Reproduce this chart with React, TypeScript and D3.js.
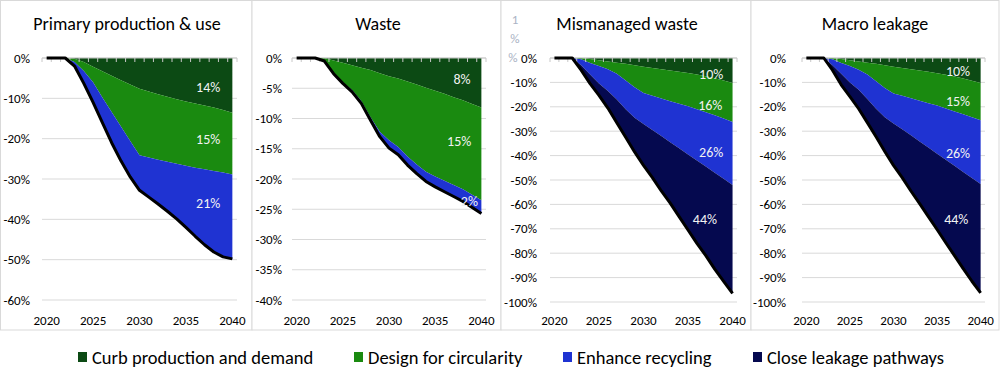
import * as d3 from "d3";

const years = [
  2020, 2021, 2022, 2023, 2024, 2025, 2026, 2027, 2028, 2029, 2030,
  2031, 2032, 2033, 2034, 2035, 2036, 2037, 2038, 2039, 2040,
];
const yearTicks = [2020, 2025, 2030, 2035, 2040];

const leverNames = [
  "Curb production and demand",
  "Design for circularity",
  "Enhance recycling",
  "Close leakage pathways",
];
const leverColors = ["#0c4a14", "#1a8a10", "#1f33d2", "#05094f"];

// reduction vs baseline attributed to each lever (percentage points)
const primaryCurb = [0, 0, 0, 0.2, 1, 2.2, 3.3, 4.4, 5.5, 6.6, 7.6, 8.3, 9, 9.6, 10.2, 10.8, 11.3, 11.8, 12.3, 12.9, 13.6];
const primaryDesign = [0, 0, 0, 0.8, 2.2, 3.8, 6.5, 9, 11.5, 14, 16.5, 16.4, 16.2, 16.1, 16, 15.9, 15.9, 15.8, 15.7, 15.5, 15.3];
const primaryRecycle = [0, 0, 0, 1, 3.1, 5, 6.2, 7.6, 8.5, 8.9, 8.7, 9.8, 11, 12.3, 13.7, 15.3, 17, 18.7, 20.1, 20.9, 20.9];
const primaryLeak = [0, 0, 0, 0, 0, 0, 0, 0, 0, 0, 0, 0, 0, 0, 0, 0, 0, 0, 0, 0, 0];

const wasteCurb = [0, 0, 0, 0, 0.4, 0.8, 1.2, 1.6, 2, 2.5, 3, 3.4, 3.9, 4.4, 4.9, 5.4, 5.9, 6.5, 7, 7.6, 8.2];
const wasteDesign = [0, 0, 0, 0.5, 2.1, 3.2, 4.1, 5.5, 7.8, 9.7, 10.6, 11.3, 12.4, 13.2, 13.9, 14.2, 14.4, 14.5, 14.7, 15, 15.3];
const wasteRecycle = [0, 0, 0, 0, 0.1, 0.2, 0.3, 0.4, 0.5, 0.8, 1.3, 1.3, 1.4, 1.5, 1.6, 1.7, 1.8, 1.9, 2, 2.1, 2.2];
const wasteLeak = [0, 0, 0, 0, 0, 0, 0, 0, 0, 0, 0, 0, 0, 0, 0, 0, 0, 0, 0, 0, 0];

const mismanagedCurb = [0, 0, 0, 0, 0.4, 0.9, 1.4, 1.9, 2.4, 3, 3.6, 4.1, 4.6, 5.1, 5.6, 6.1, 6.8, 7.5, 8.3, 9.2, 10.2];
const mismanagedDesign = [0, 0, 0, 0.5, 1.6, 2.4, 3.2, 4.6, 6.8, 9, 10.7, 11.4, 12, 12.6, 13.2, 13.7, 14.2, 14.7, 15.2, 15.6, 16];
const mismanagedRecycle = [0, 0, 0, 2.5, 4.8, 7.2, 8.9, 10.5, 11.8, 12.5, 12.7, 14, 15.4, 16.8, 18.2, 19.7, 21, 22.3, 23.5, 24.7, 25.8];
const mismanagedLeak = [0, 0, 0, 2, 3.7, 4.8, 7, 9.5, 11.5, 14, 17, 19.5, 22.5, 25, 28, 31, 34, 36.5, 39.5, 42, 44.5];

const macroCurb = [0, 0, 0, 0, 0.4, 0.9, 1.4, 1.9, 2.4, 3, 3.6, 4.1, 4.6, 5.1, 5.6, 6.2, 6.9, 7.6, 8.4, 9.3, 10.2];
const macroDesign = [0, 0, 0, 0.5, 1.6, 2.4, 3.4, 4.9, 7.1, 9.3, 10.9, 11.4, 11.9, 12.4, 12.9, 13.3, 13.8, 14.3, 14.7, 15, 15.3];
const macroRecycle = [0, 0, 0, 2.5, 4.5, 6.7, 8.2, 10, 11.3, 12, 12.3, 13.7, 15.2, 16.7, 18.2, 19.7, 21, 22.3, 23.6, 24.9, 26.1];
const macroLeak = [0, 0, 0, 2, 4.5, 5.8, 7.8, 9.7, 11.5, 14, 17.2, 19.8, 22.8, 25.5, 28.3, 31.1, 34, 36.8, 39.6, 42.3, 44.7];

const panelTitles = ["Primary production & use", "Waste", "Mismanaged waste", "Macro leakage"];
const panelSeries = [
  [primaryCurb, primaryDesign, primaryRecycle, primaryLeak],
  [wasteCurb, wasteDesign, wasteRecycle, wasteLeak],
  [mismanagedCurb, mismanagedDesign, mismanagedRecycle, mismanagedLeak],
  [macroCurb, macroDesign, macroRecycle, macroLeak],
];
const panelYMin = [-60, -40, -100, -100];
const panelYStep = [10, 5, 10, 10];
const panelShareText = [
  ["14%", "15%", "21%"],
  ["8%", "15%", "2%"],
  ["10%", "16%", "26%", "44%"],
  ["10%", "15%", "26%", "44%"],
];
// where each share label sits, as [year, value]
const panelShareAt = [
  [[2037.4, -7.2], [2037.4, -20.1], [2037.4, -36]],
  [[2037.9, -3.5], [2037.6, -13.7], [2038.7, -23.6]],
  [[2037.6, -6.6], [2037.5, -19.3], [2037.6, -38.5], [2036.9, -66]],
  [[2037.4, -5.3], [2037.4, -17.6], [2037.4, -38.9], [2037.2, -66]],
];

const FONT = "Carlito, Calibri, Lato, 'Noto Sans', sans-serif";

// frame layout of the four small charts
const frames = [
  { x0: 0.5, x1: 252, gridL: 42, gridR: 237, labelR: 30, titleX: 127, bottom: 300 },
  { x0: 252, x1: 501, gridL: 292, gridR: 486, labelR: 282, titleX: 378, bottom: 300 },
  { x0: 501, x1: 751, gridL: 550, gridR: 737, labelR: 537, titleX: 627, bottom: 302 },
  { x0: 751, x1: 999, gridL: 802, gridR: 985, labelR: 786, titleX: 875, bottom: 302 },
];
const zeroY = 58;

const legendSwatchX = [78, 354, 563, 753];

function Panel({ idx }: { idx: number }) {
  const f = frames[idx];
  const series = panelSeries[idx];
  const x = d3.scalePoint<number>().domain(years).range([f.gridL, f.gridR]).padding(0.5);
  const step = x.step();
  const xv = (yr: number) => (x(2020) as number) + (yr - 2020) * step;
  const y = d3.scaleLinear().domain([panelYMin[idx], 0]).range([f.bottom, zeroY]);

  const rows = years.map((yr, i) => ({ year: yr, s0: series[0][i], s1: series[1][i], s2: series[2][i], s3: series[3][i] }));
  const stack = d3.stack<any>().keys(["s0", "s1", "s2", "s3"]);
  const layers = stack(rows);

  const area = d3
    .area<any>()
    .x((d) => x(d.data.year) as number)
    .y0((d) => y(-d[0]))
    .y1((d) => y(-d[1]));

  const totals = rows.map((r) => ({ year: r.year, v: -(r.s0 + r.s1 + r.s2 + r.s3) }));
  const line = d3
    .line<any>()
    .x((d) => x(d.year) as number)
    .y((d) => y(d.v));

  const yTicks = d3.range(0, panelYMin[idx] - 0.001, -panelYStep[idx]);
  const tickXs = d3.range(0, years.length + 1).map((i) => f.gridL + i * step);

  return (
    <g>
      <rect x={f.x0} y={0.5} width={f.x1 - f.x0} height={329.5} fill="#fff" stroke="#d9d9d9" />
      <text x={f.titleX} y={30} textAnchor="middle" fontSize={18} fill="#000" fontFamily={FONT}>
        {panelTitles[idx]}
      </text>
      {yTicks.map((t) => (
        <g key={t}>
          <line x1={f.gridL} x2={f.gridR} y1={y(t)} y2={y(t)} stroke="#d9d9d9" strokeWidth={1} />
          <text x={f.labelR} y={y(t)} dy="0.35em" textAnchor="end" fontSize={13} fill="#000" fontFamily={FONT}>
            {t}%
          </text>
        </g>
      ))}
      {layers.map((l, i) => (
        <path key={i} d={area(l) || ""} fill={leverColors[i]} />
      ))}
      <line x1={f.gridL} x2={f.gridR} y1={zeroY} y2={zeroY} stroke="#c8c8c8" />
      {tickXs.map((tx, i) => (
        <line key={i} x1={tx} x2={tx} y1={zeroY} y2={zeroY + 4} stroke="#c8c8c8" />
      ))}
      <path d={line(totals) || ""} fill="none" stroke="#000" strokeWidth={3} strokeLinejoin="round" />
      {panelShareText[idx].map((s, i) => (
        <text
          key={i}
          x={xv(panelShareAt[idx][i][0])}
          y={y(panelShareAt[idx][i][1])}
          dy="0.35em"
          textAnchor="middle"
          fontSize={14}
          fill="#f2f2f2"
          fontFamily={FONT}
        >
          {s}
        </text>
      ))}
      {yearTicks.map((yr) => (
        <text key={yr} x={x(yr)} y={325} textAnchor="middle" fontSize={13} fill="#000" fontFamily={FONT}>
          {yr}
        </text>
      ))}
    </g>
  );
}

export default function App() {
  return (
    <svg width={1000} height={368} style={{ position: "absolute", left: 0, top: 0, background: "#fff" }}>
      <rect x={0} y={0} width={1000} height={368} fill="#fff" />
      {frames.map((_, i) => (
        <Panel key={i} idx={i} />
      ))}
      {/* stray clipped axis label in the third chart */}
      <g fill="#aab3c4" fontSize={13} fontFamily={FONT} textAnchor="middle">
        <text x={515} y={24}>1</text>
        <text x={515} y={43}>%</text>
        <text x={513} y={62}>%</text>
      </g>
      {leverNames.map((n, i) => (
        <g key={n}>
          <rect x={legendSwatchX[i]} y={352} width={9} height={10} fill={leverColors[i]} />
          <text x={legendSwatchX[i] + 14} y={364} fontSize={18.5} fill="#000" fontFamily={FONT}>
            {n}
          </text>
        </g>
      ))}
    </svg>
  );
}
